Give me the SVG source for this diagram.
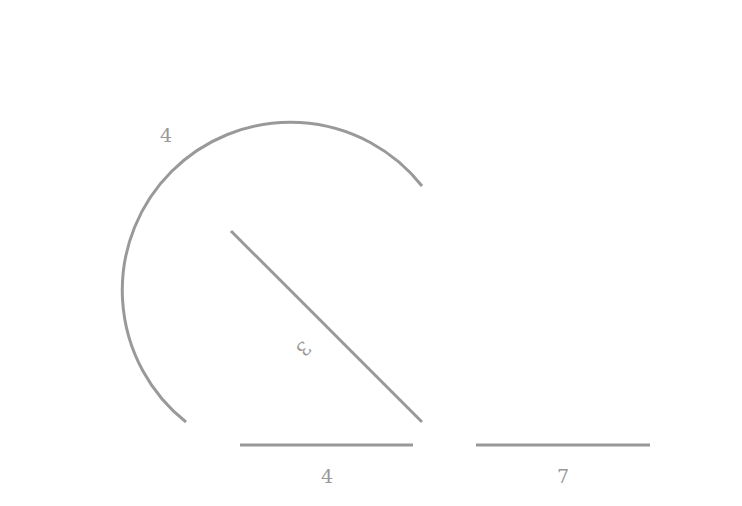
<svg xmlns="http://www.w3.org/2000/svg" width="742" height="506" viewBox="0 0 742 506">
<style>
.e{fill:none;stroke:#999;stroke-width:3}
.t{font-family:"DejaVu Serif",serif;font-size:19px;fill:#999;text-anchor:middle;dominant-baseline:central}
</style>
<rect width="742" height="506" fill="#fff"/>
<g id="connectors">
<path class="e" d="M186,422 A168,168 0 1 1 422,186"/>
<line class="e" x1="231" y1="231" x2="422" y2="422"/>
<line class="e" x1="240" y1="445" x2="413" y2="445"/>
<line class="e" x1="476" y1="445" x2="650" y2="445"/>
</g>
<g id="labels">
<text class="t" x="166" y="135">4</text>
<text class="t" x="304" y="349" transform="rotate(135 304 349)">3</text>
<text class="t" x="327" y="476">4</text>
<text class="t" x="563" y="476">7</text>
</g>
</svg>
